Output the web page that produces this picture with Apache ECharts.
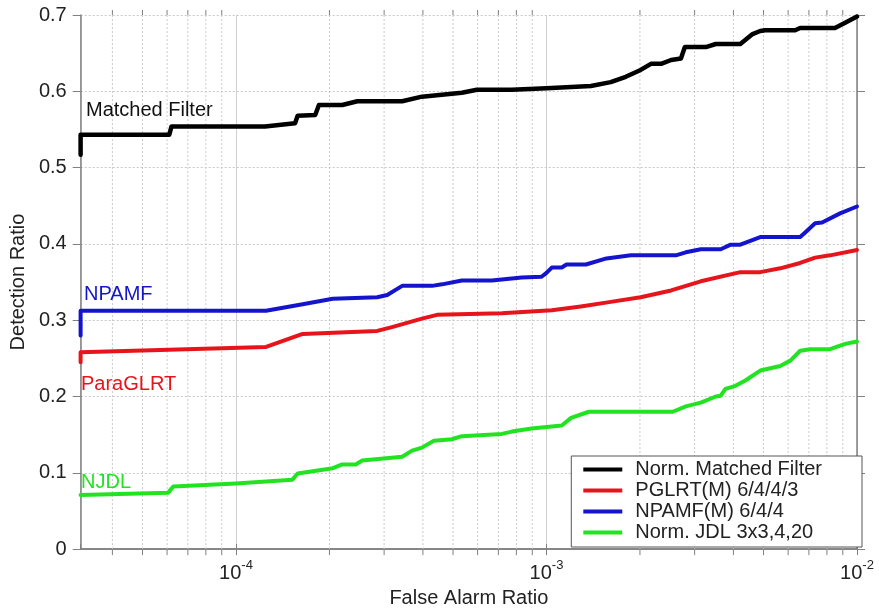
<!DOCTYPE html>
<html>
<head>
<meta charset="utf-8">
<script src="https://cdn.jsdelivr.net/npm/echarts@6/dist/echarts.min.js"></script>
<style>
  html, body { margin: 0; padding: 0; background: #fff; }
  #chart { width: 879px; height: 613px; }
</style>
</head>
<body>
<div id="chart"></div>
<script>
// Detection ratio vs. false alarm ratio for four detectors (log x axis)
const FONT = '"Liberation Sans", Arial, sans-serif';

const seriesNames = [
  'Norm. Matched Filter',
  'PGLRT(M) 6/4/4/3',
  'NPAMF(M) 6/4/4',
  'Norm. JDL 3x3,4,20'
];
const seriesColors = ['#000000', '#e8141c', '#1414cc', '#22e322'];

const matchedFilter = [
  [3.16e-5, 0.517], [3.16e-5, 0.543], [6.1e-5, 0.543], [6.2e-5, 0.554], [1.24e-4, 0.554],
  [1.55e-4, 0.558], [1.58e-4, 0.568], [1.8e-4, 0.569], [1.85e-4, 0.582], [2.2e-4, 0.582],
  [2.46e-4, 0.587], [3.43e-4, 0.587], [3.97e-4, 0.593], [5.34e-4, 0.598], [5.97e-4, 0.602],
  [7.73e-4, 0.602], [1.0e-3, 0.604], [1.39e-3, 0.607], [1.61e-3, 0.612], [1.8e-3, 0.619],
  [2.01e-3, 0.628], [2.17e-3, 0.636], [2.34e-3, 0.636], [2.52e-3, 0.641], [2.71e-3, 0.643],
  [2.79e-3, 0.658], [3.26e-3, 0.658], [3.51e-3, 0.662], [4.21e-3, 0.662], [4.61e-3, 0.675],
  [4.88e-3, 0.679], [5.06e-3, 0.680], [6.32e-3, 0.680], [6.56e-3, 0.683], [8.49e-3, 0.683],
  [9.16e-3, 0.690], [1.0e-2, 0.698]
];

const pglrt = [
  [3.16e-5, 0.245], [3.16e-5, 0.258], [1.25e-4, 0.265], [1.64e-4, 0.282], [2.85e-4, 0.286],
  [3.18e-4, 0.291], [3.97e-4, 0.302], [4.44e-4, 0.307], [7.18e-4, 0.309], [1.04e-3, 0.313],
  [1.29e-3, 0.318], [1.61e-3, 0.324], [2.01e-3, 0.330], [2.52e-3, 0.339], [3.14e-3, 0.351],
  [4.21e-3, 0.363], [4.88e-3, 0.363], [5.66e-3, 0.368], [6.56e-3, 0.375], [7.33e-3, 0.382],
  [8.19e-3, 0.385], [1.0e-2, 0.392]
];

const npamf = [
  [3.16e-5, 0.280], [3.16e-5, 0.3125], [1.25e-4, 0.3125], [1.64e-4, 0.321], [2.05e-4, 0.328],
  [2.85e-4, 0.330], [3.07e-4, 0.333], [3.43e-4, 0.345], [4.28e-4, 0.345], [4.61e-4, 0.347],
  [5.34e-4, 0.352], [6.67e-4, 0.352], [8.32e-4, 0.356], [9.64e-4, 0.357], [1.0e-3, 0.362],
  [1.04e-3, 0.369], [1.12e-3, 0.369], [1.16e-3, 0.373], [1.34e-3, 0.373], [1.56e-3, 0.381],
  [1.87e-3, 0.385], [2.61e-3, 0.385], [2.81e-3, 0.389], [3.14e-3, 0.393], [3.64e-3, 0.393],
  [3.92e-3, 0.399], [4.21e-3, 0.399], [4.88e-3, 0.409], [6.56e-3, 0.409], [6.81e-3, 0.415],
  [7.33e-3, 0.427], [7.72e-3, 0.428], [8.82e-3, 0.440], [1.0e-2, 0.449]
];

const njdl = [
  [3.16e-5, 0.071], [6.05e-5, 0.074], [6.28e-5, 0.082], [1.0e-4, 0.086], [1.52e-4, 0.091],
  [1.58e-4, 0.099], [1.64e-4, 0.100], [2.05e-4, 0.106], [2.2e-4, 0.111], [2.43e-4, 0.111],
  [2.55e-4, 0.116], [3.43e-4, 0.121], [3.69e-4, 0.129], [3.97e-4, 0.133], [4.34e-4, 0.142],
  [4.96e-4, 0.144], [5.34e-4, 0.148], [7.18e-4, 0.151], [7.73e-4, 0.154], [8.95e-4, 0.158],
  [1.12e-3, 0.162], [1.2e-3, 0.172], [1.37e-3, 0.180], [2.55e-3, 0.180], [2.81e-3, 0.187],
  [3.14e-3, 0.192], [3.51e-3, 0.200], [3.64e-3, 0.201], [3.77e-3, 0.210], [4.06e-3, 0.214],
  [4.37e-3, 0.221], [4.88e-3, 0.234], [5.66e-3, 0.240], [6.1e-3, 0.247], [6.56e-3, 0.260],
  [7.06e-3, 0.262], [8.19e-3, 0.262], [9.16e-3, 0.269], [1.0e-2, 0.272]
];

const seriesData = [matchedFilter, pglrt, npamf, njdl];

// Axis ranges
const xMin = Math.pow(10, -4.5);
const xMax = 1e-2;
const yMin = 0, yMax = 0.7, yStep = 0.1;

// Intermediate log-decade positions (2..9 x 10^k) for the minor grid
const minorGrid = [];
for (let e = -5; e <= -3; e++) {
  for (let m = 2; m <= 9; m++) {
    const v = m * Math.pow(10, e);
    if (v > xMin && v < xMax) minorGrid.push([v, 0]);
  }
}

const SUP = { '-': '\u207B' };
function decadeLabel(v) {
  const p = Math.log10(v);
  const r = Math.round(p);
  if (Math.abs(p - r) > 1e-6) return '';
  return '{b|10}{s|' + r + '}';
}

const chart = echarts.init(document.getElementById('chart'), null, { renderer: 'canvas' });

const lineSeries = seriesNames.map((name, i) => ({
  name: name,
  type: 'line',
  data: seriesData[i],
  showSymbol: false,
  symbol: 'none',
  smooth: false,
  z: 10 - i,
  lineStyle: { color: seriesColors[i], width: i === 0 ? 4.5 : 4, join: 'round', cap: 'round' },
  itemStyle: { color: seriesColors[i] }
}));

const option = {
  backgroundColor: '#ffffff',
  animation: false,
  textStyle: { fontFamily: FONT },
  grid: { left: 77, right: 22, top: 15, bottom: 62, containLabel: false },
  legend: {
    data: seriesNames,
    orient: 'vertical',
    right: 17,
    bottom: 66,
    icon: 'rect',
    itemWidth: 39,
    itemHeight: 4,
    itemGap: 0,
    padding: [3, 40, 4, 12],
    backgroundColor: '#ffffff',
    borderColor: '#555555',
    borderWidth: 1,
    borderRadius: 0,
    z: 20,
    textStyle: { fontFamily: FONT, fontSize: 20, color: '#222', lineHeight: 21, padding: [0, 0, 0, 8] }
  },
  xAxis: [
    {
      type: 'log',
      logBase: 10,
      min: xMin,
      max: xMax,
      position: 'bottom',
      name: 'False Alarm Ratio',
      nameLocation: 'middle',
      nameGap: 36,
      nameTextStyle: { fontFamily: FONT, fontSize: 20, color: '#222' },
      axisLine: { show: true, lineStyle: { color: '#808080', width: 1.5 } },
      axisTick: { show: true, length: 6, lineStyle: { color: '#808080', width: 1 } },
      axisLabel: {
        show: true,
        margin: 14,
        showMinLabel: false,
        formatter: decadeLabel,
        rich: {
          b: { fontFamily: FONT, fontSize: 20, color: '#222', lineHeight: 20, verticalAlign: 'bottom' },
          s: { fontFamily: FONT, fontSize: 13, color: '#222', lineHeight: 13, verticalAlign: 'bottom', padding: [0, 0, 11, 0] }
        }
      },
      splitLine: { show: true, lineStyle: { color: '#cfcfcf', width: 1, type: 'solid' } },
      minorTick: { show: false },
      minorSplitLine: { show: false }
    },
    {
      type: 'log',
      logBase: 10,
      min: xMin,
      max: xMax,
      position: 'top',
      axisLine: { show: true, lineStyle: { color: '#808080', width: 1.5 } },
      axisTick: { show: true, length: 5, lineStyle: { color: '#808080', width: 1 } },
      axisLabel: { show: false },
      splitLine: { show: false }
    }
  ],
  yAxis: [
    {
      type: 'value',
      min: yMin,
      max: yMax,
      interval: yStep,
      position: 'left',
      name: 'Detection Ratio',
      nameLocation: 'middle',
      nameGap: 48,
      nameTextStyle: { fontFamily: FONT, fontSize: 20, color: '#222' },
      axisLine: { show: true, lineStyle: { color: '#808080', width: 1.5 } },
      axisTick: { show: true, length: 8, lineStyle: { color: '#808080', width: 1 } },
      axisLabel: { fontFamily: FONT, fontSize: 20, color: '#222', margin: 14 },
      splitLine: { show: true, lineStyle: { color: '#c8c8c8', width: 1, type: [2, 2] } }
    },
    {
      type: 'value',
      min: yMin,
      max: yMax,
      interval: yStep,
      position: 'right',
      axisLine: { show: true, lineStyle: { color: '#808080', width: 1.5 } },
      axisTick: { show: true, length: 8, lineStyle: { color: '#808080', width: 1 } },
      axisLabel: { show: false },
      splitLine: { show: false }
    }
  ],
  series: [
    {
      name: 'minor-grid',
      type: 'custom',
      xAxisIndex: 0,
      yAxisIndex: 0,
      data: minorGrid,
      clip: false,
      silent: true,
      z: 1,
      encode: { x: 0, y: 1 },
      renderItem: function (params, api) {
        const x = api.value(0);
        const pb = api.coord([x, yMin]);
        const pt = api.coord([x, yMax]);
        return {
          type: 'group',
          children: [
            { type: 'line', shape: { x1: pb[0], y1: pb[1], x2: pt[0], y2: pt[1] },
              style: { stroke: '#c8c8c8', lineWidth: 1, lineDash: [2, 2] } },
            { type: 'line', shape: { x1: pb[0], y1: pb[1], x2: pb[0], y2: pb[1] + 6 },
              style: { stroke: '#808080', lineWidth: 1 } },
            { type: 'line', shape: { x1: pt[0], y1: pt[1], x2: pt[0], y2: pt[1] - 5 },
              style: { stroke: '#808080', lineWidth: 1 } }
          ]
        };
      }
    }
  ].concat(lineSeries),
  graphic: [
    { type: 'text', left: 86, top: 100, z: 30,
      style: { text: 'Matched Filter', fill: '#111', font: '20px ' + FONT } },
    { type: 'text', left: 84, top: 284, z: 30,
      style: { text: 'NPAMF', fill: seriesColors[2], font: '20px ' + FONT } },
    { type: 'text', left: 81, top: 374, z: 30,
      style: { text: 'ParaGLRT', fill: seriesColors[1], font: '20px ' + FONT } },
    { type: 'text', left: 81, top: 472, z: 30,
      style: { text: 'NJDL', fill: seriesColors[3], font: '20px ' + FONT } }
  ]
};

chart.setOption(option);
</script>
</body>
</html>
